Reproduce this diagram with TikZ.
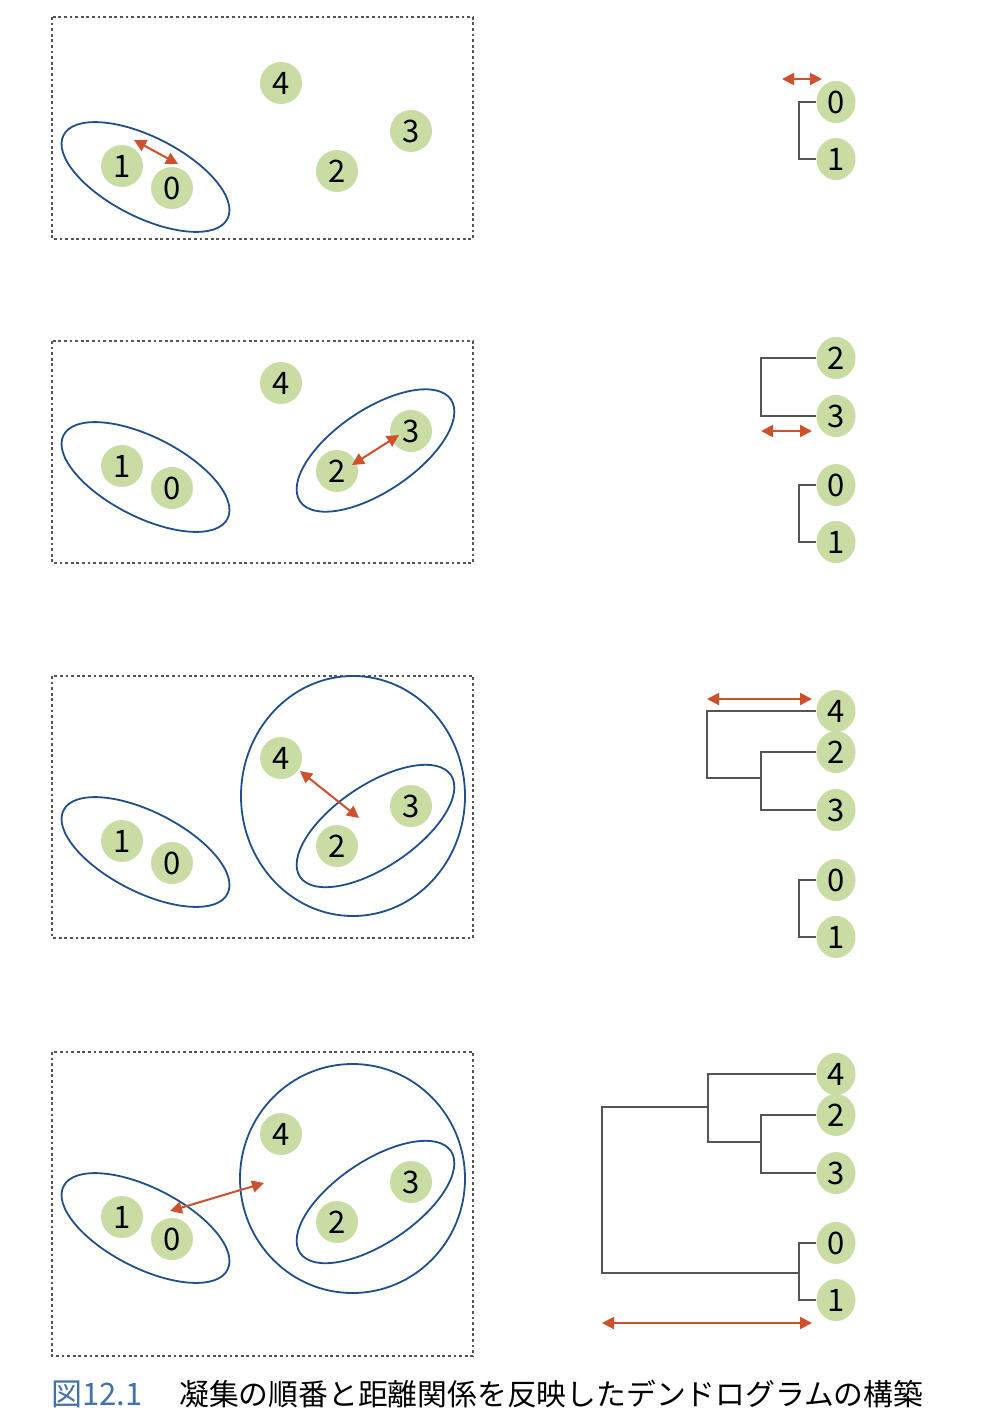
\documentclass[tikz,border=0pt]{standalone}
\usepackage{fontspec}
\setmainfont{Noto Sans CJK JP}
\usetikzlibrary{arrows.meta,shapes.geometric}
\definecolor{ptgreen}{HTML}{C9DCA3}
\definecolor{clblue}{HTML}{1F4F8F}
\definecolor{arred}{HTML}{D0502E}
\definecolor{dgray}{HTML}{555555}
\definecolor{capblue}{HTML}{4470AD}
\tikzset{
  pt/.style={circle, fill=ptgreen, inner sep=0pt, minimum size=42pt, font=\fontsize{31}{31}\selectfont, text depth=0pt},
  dpt/.style={ellipse, fill=ptgreen, inner sep=0pt, minimum width=39pt, minimum height=42pt, font=\fontsize{31}{31}\selectfont, text depth=0pt},
  frame/.style={draw=dgray, line width=1.4pt, dash pattern=on 2.8pt off 2.8pt},
  clus/.style={draw=clblue, line width=1.8pt},
  dist/.style={draw=arred, line width=2pt, {Triangle[length=12pt,width=12pt]}-{Triangle[length=12pt,width=12pt]}},
  tree/.style={draw=dgray, line width=1.5pt},
}
\begin{document}
\begin{tikzpicture}[x=1pt,y=-1pt]
\useasboundingbox (0,0) rectangle (988,1424);
% frames
\draw[frame] (52,17) rectangle (473,239);
\draw[frame] (52,341) rectangle (473,563);
\draw[frame] (52,676) rectangle (473,938);
\draw[frame] (52,1052) rectangle (473,1356);
% points
\foreach \p/\dy in {1/0,2/300,3/675,4/1051}{
  \node[pt] (p\p n4) at (281,83+\dy) {4};
  \node[pt] (p\p n3) at (411,131+\dy) {3};
  \node[pt] (p\p n2) at (337,171+\dy) {2};
  \node[pt] (p\p n1) at (122,166+\dy) {1};
  \node[pt] (p\p n0) at (172,188+\dy) {0};
}
% cluster {0,1}
\foreach \cy in {177,477,852,1228}{
  \draw[clus, rotate around={-27:(145.5,\cy)}] (145.5,\cy) ellipse [x radius=92pt, y radius=40pt];
}
% cluster {2,3}
\foreach \cy in {450.5,826,1202}{
  \draw[clus, rotate around={34:(375.5,\cy)}] (375.5,\cy) ellipse [x radius=91pt, y radius=41pt];
}
% cluster {2,3,4}
\draw[clus] (353,796) ellipse [x radius=112pt, y radius=120pt];
\draw[clus] (352.5,1178.5) ellipse [x radius=112.5pt, y radius=114.5pt];
% distance arrows in panels
\coordinate (a1s) at (134,140); \coordinate (a1e) at (178,164);
\draw[dist] (a1s) -- (a1e);
\coordinate (a2s) at (352,465); \coordinate (a2e) at (399,435);
\draw[dist] (a2s) -- (a2e);
\coordinate (a3s) at (300,771); \coordinate (a3e) at (359,818);
\draw[dist] (a3s) -- (a3e);
\coordinate (a4s) at (170,1211); \coordinate (a4e) at (264,1183);
\draw[dist] (a4s) -- (a4e);

% ---------- dendrogram 1 ----------
\node[dpt] (d1n0) at (836,102) {0};
\node[dpt] (d1n1) at (836,159) {1};
\coordinate (d1b) at (799,102);
\draw[tree] (d1n0.west) -- (d1b) -- (d1b |- d1n1) -- (d1n1.west);
\coordinate (d1as) at (782,79); \coordinate (d1ae) at (822,79);
\draw[dist] (d1as) -- (d1ae);

% ---------- dendrogram 2 ----------
\node[dpt] (d2n2) at (836,358) {2};
\node[dpt] (d2n3) at (836,416) {3};
\node[dpt] (d2n0) at (836,485) {0};
\node[dpt] (d2n1) at (836,542) {1};
\coordinate (d2b) at (761,358);
\draw[tree] (d2n2.west) -- (d2b) -- (d2b |- d2n3) -- (d2n3.west);
\coordinate (d2c) at (799,485);
\draw[tree] (d2n0.west) -- (d2c) -- (d2c |- d2n1) -- (d2n1.west);
\coordinate (d2as) at (761,431); \coordinate (d2ae) at (812,431);
\draw[dist] (d2as) -- (d2ae);

% ---------- dendrogram 3 ----------
\node[dpt] (d3n4) at (836,711) {4};
\node[dpt] (d3n2) at (836,752) {2};
\node[dpt] (d3n3) at (836,810) {3};
\node[dpt] (d3n0) at (836,880) {0};
\node[dpt] (d3n1) at (836,937) {1};
\coordinate (d3b) at (761,752);
\draw[tree] (d3n2.west) -- (d3b) -- (d3b |- d3n3) -- (d3n3.west);
\coordinate (d3j) at (761,778);
\coordinate (d3t) at (707,711);
\draw[tree] (d3n4.west) -- (d3t) -- (d3t |- d3j) -- (d3j);
\coordinate (d3c) at (799,880);
\draw[tree] (d3n0.west) -- (d3c) -- (d3c |- d3n1) -- (d3n1.west);
\coordinate (d3as) at (707,699); \coordinate (d3ae) at (812,699);
\draw[dist] (d3as) -- (d3ae);

% ---------- dendrogram 4 ----------
\node[dpt] (d4n4) at (836,1074) {4};
\node[dpt] (d4n2) at (836,1115) {2};
\node[dpt] (d4n3) at (836,1173) {3};
\node[dpt] (d4n0) at (836,1243) {0};
\node[dpt] (d4n1) at (836,1300) {1};
\coordinate (d4b) at (761,1115);
\draw[tree] (d4n2.west) -- (d4b) -- (d4b |- d4n3) -- (d4n3.west);
\coordinate (d4j) at (761,1142);
\coordinate (d4t) at (708,1074);
\draw[tree] (d4n4.west) -- (d4t) -- (d4t |- d4j) -- (d4j);
\coordinate (d4c) at (799,1243);
\draw[tree] (d4n0.west) -- (d4c) -- (d4c |- d4n1) -- (d4n1.west);
\coordinate (d4k) at (799,1273);
\coordinate (d4r) at (602,1107);
\coordinate (d4m) at (708,1107);
\draw[tree] (d4m) -- (d4r) -- (d4r |- d4k) -- (d4k);
\coordinate (d4as) at (602,1323); \coordinate (d4ae) at (812,1323);
\draw[dist] (d4as) -- (d4ae);

% caption
\node[anchor=west, inner sep=0pt, text=capblue, font=\fontsize{31}{31}\selectfont] (capnum) at (51,1394) {図12.1};
\node[anchor=west, inner sep=0pt, font=\fontsize{29.8}{30}\selectfont] (captext) at (179,1394) {凝集の順番と距離関係を反映したデンドログラムの構築};
\end{tikzpicture}
\end{document}
